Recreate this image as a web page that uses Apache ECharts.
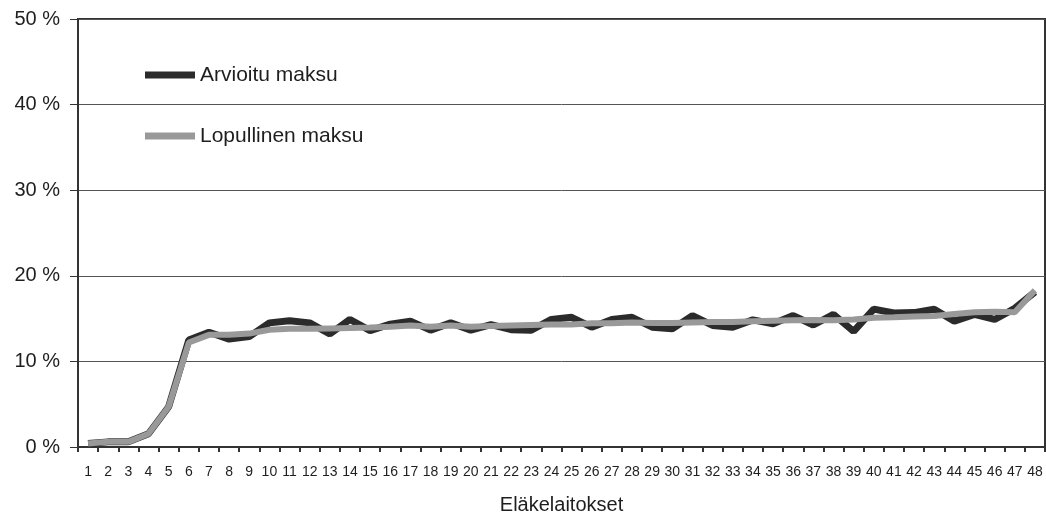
<!DOCTYPE html>
<html>
<head>
<meta charset="utf-8">
<script src="https://cdn.jsdelivr.net/npm/echarts@6/dist/echarts.min.js"></script>
<style>
html,body{margin:0;padding:0;background:#fff;width:1046px;height:520px;overflow:hidden;}
#c{width:1046px;height:520px;}
</style>
</head>
<body>
<div id="c"></div>
<script>
var categories = [];
for (var i = 1; i <= 48; i++) categories.push(String(i));
var arvioitu = [0.4,0.6,0.6,1.55,4.7,12.5,13.4,12.6,12.9,14.5,14.75,14.5,13.2,14.9,13.6,14.35,14.7,13.65,14.5,13.65,14.3,13.7,13.65,14.9,15.15,14.0,14.9,15.15,14.0,13.8,15.35,14.2,14.0,14.85,14.4,15.35,14.25,15.5,13.5,16.1,15.65,15.7,16.1,14.7,15.5,14.9,16.2,18.1];
var lopullinen = [0.4,0.6,0.6,1.55,4.7,12.2,13.1,13.1,13.25,13.7,13.8,13.8,13.85,13.9,13.95,14.05,14.2,14.05,14.2,14.05,14.15,14.2,14.25,14.3,14.3,14.45,14.45,14.55,14.5,14.5,14.55,14.6,14.6,14.7,14.75,14.8,14.85,14.8,14.9,15.1,15.15,15.25,15.3,15.55,15.75,15.8,15.75,18.3];
var seriesNames = ['Arvioitu maksu', 'Lopullinen maksu'];
var xAxisName = 'Eläkelaitokset';

var chart = echarts.init(document.getElementById('c'), null, {renderer: 'canvas', width: 1046, height: 520});
var font = 'Liberation Sans, Arial, sans-serif';
chart.setOption({
  animation: false,
  textStyle: {fontFamily: font},
  grid: {left: 78, width: 967, top: 19, height: 436, show: true, borderColor: '#333', borderWidth: 2},
  legend: {
    orient: 'vertical', left: 140, top: 58,
    itemWidth: 50, itemHeight: 7, itemGap: 37,
    icon: 'rect',
    textStyle: {fontSize: 21, color: '#1e1e1e', fontFamily: font, lineHeight: 24},
    data: [
      {name: seriesNames[0], itemStyle: {color: '#2b2b2b'}},
      {name: seriesNames[1], itemStyle: {color: '#999999'}}
    ]
  },
  xAxis: {
    type: 'category', data: categories, boundaryGap: true,
    name: xAxisName, nameLocation: 'middle', nameGap: 48,
    nameTextStyle: {fontSize: 20, color: '#1e1e1e', fontFamily: font},
    axisLine: {lineStyle: {color: '#333', width: 2}},
    axisTick: {show: true, length: 5, interval: 0, lineStyle: {color: '#333', width: 2}},
    axisLabel: {interval: 0, fontSize: 14, color: '#1e1e1e', margin: 18, fontFamily: font},
  },
  yAxis: {
    type: 'value', min: 0, max: 50, interval: 10,
    axisLine: {show: true, lineStyle: {color: '#333', width: 2}},
    axisTick: {show: true, length: 8, lineStyle: {color: '#333', width: 1}},
    axisLabel: {formatter: '{value} %', fontSize: 20, color: '#1e1e1e', margin: 18, fontFamily: font},
    splitLine: {show: true, lineStyle: {color: '#555', width: 1}}
  },
  series: [
    {name: seriesNames[0], type: 'line', data: arvioitu, showSymbol: false, symbol: 'none',
     lineStyle: {color: '#2b2b2b', width: 7}, itemStyle: {color: '#2b2b2b'}, z: 2},
    {name: seriesNames[1], type: 'line', data: lopullinen, showSymbol: false, symbol: 'none',
     lineStyle: {color: '#999999', width: 6}, itemStyle: {color: '#999999'}, z: 3}
  ]
});
</script>
</body>
</html>
